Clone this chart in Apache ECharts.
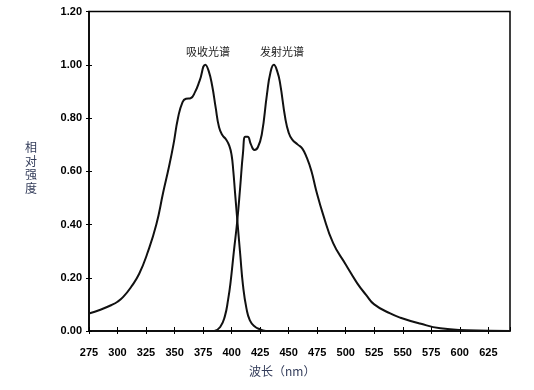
<!DOCTYPE html>
<html><head><meta charset="utf-8">
<script src="https://cdn.jsdelivr.net/npm/echarts@6/dist/echarts.min.js"></script>
<style>html,body{margin:0;padding:0;background:#fff}#c{width:534px;height:390px}</style>
</head><body><div id="c"></div>
<script>
var xTicks = [275,300,325,350,375,400,425,450,475,500,525,550,575,600,625];
var yTicks = ['0.00','0.20','0.40','0.60','0.80','1.00','1.20'];
var absorption = [[275,0.066],[285,0.08],[295,0.098],[300,0.11],[305,0.128],[312,0.166],[319,0.215],[326,0.29],[334,0.40],[340,0.52],[345,0.615],[349,0.70],[353,0.80],[357,0.86],[360,0.872],[364,0.874],[368,0.898],[372,0.94],[377,1.0],[380,0.975],[383,0.92],[386,0.84],[389,0.765],[392,0.735],[395,0.72],[398,0.695],[400,0.66],[401.5,0.60],[403,0.52],[405,0.416],[407.5,0.29],[410,0.17],[413,0.085],[416,0.04],[420,0.018],[425,0.006],[430,0]];
var emission = [[385,0],[390,0.015],[394,0.054],[397,0.12],[399,0.18],[402,0.30],[405,0.416],[407.5,0.54],[410,0.67],[412,0.73],[414,0.73],[417,0.70],[420,0.68],[423,0.69],[426.5,0.74],[431,0.89],[434,0.97],[437,1.0],[440,0.975],[442.5,0.93],[447,0.80],[450,0.745],[453,0.72],[458,0.70],[462,0.685],[466,0.65],[470,0.6],[474,0.53],[480,0.44],[489,0.33],[500,0.25],[510,0.18],[518,0.135],[525,0.10],[539,0.066],[548,0.05],[565,0.028],[583,0.01],[606,0.003],[644,0]];
var seriesNames = ['吸收光谱','发射光谱'];
var xName = '波长（nm）';
var yName = '相对强度';

var chart = echarts.init(document.getElementById('c'), null, {renderer:'canvas'});
var lblFont = {color:'#000', fontWeight:'bold', fontSize:11, fontFamily:'Liberation Sans, Arial, sans-serif'};
function xAx(inside){
  return {type:'value', min:275, max:644, interval:25, position:'bottom',
    axisLine:{show:!inside, lineStyle:{color:'#000', width:1.5}},
    axisTick:{show:true, inside:inside, length:inside?4:3, lineStyle:{color:'#000', width:1}},
    axisLabel: inside ? {show:false} : Object.assign({margin:16, showMaxLabel:false,
      formatter:function(v){ return xTicks.indexOf(v)>=0 ? String(v) : ''; }}, lblFont),
    splitLine:{show:false}};
}
function yAx(inside){
  return {type:'value', min:0, max:1.2, interval:0.2, position:'left', offset:0,
    axisLine:{show:!inside, lineStyle:{color:'#000', width:1.5}},
    axisTick:{show:true, inside:inside, length:3, lineStyle:{color:'#000', width:1}},
    axisLabel: inside ? {show:false} : Object.assign({margin:7,
      formatter:function(v){ return yTicks[Math.round(v/0.2)]; }}, lblFont),
    splitLine:{show:false}};
}
chart.setOption({
  animation:false,
  grid:{left:89, right:24, top:11.5, bottom:59, show:true, borderColor:'#000', borderWidth:1.5, backgroundColor:'transparent'},
  xAxis:[xAx(false), xAx(true)],
  yAxis:[yAx(false), yAx(true)],
  series:[
    {name:seriesNames[0], type:'line', data:absorption, smooth:0.5, showSymbol:false, lineStyle:{color:'#111', width:2}},
    {name:seriesNames[1], type:'line', data:emission, smooth:0.5, showSymbol:false, lineStyle:{color:'#111', width:2}}
  ],
  graphic:[
    {type:'text', left:186, top:46, style:{text:seriesNames[0], fill:'#222', font:'11px "Noto Sans CJK SC", sans-serif'}},
    {type:'text', left:260, top:46, style:{text:seriesNames[1], fill:'#222', font:'11px "Noto Sans CJK SC", sans-serif'}},
    {type:'text', left:249, top:365, style:{text:xName, fill:'#333c5a', font:'12px "Noto Sans CJK SC", sans-serif'}},
    {type:'text', left:25, top:141, style:{text:yName.split('').join('\n'), fill:'#333c5a', font:'12px "Noto Sans CJK SC", sans-serif', lineHeight:13.5}}
  ]
});
</script></body></html>
